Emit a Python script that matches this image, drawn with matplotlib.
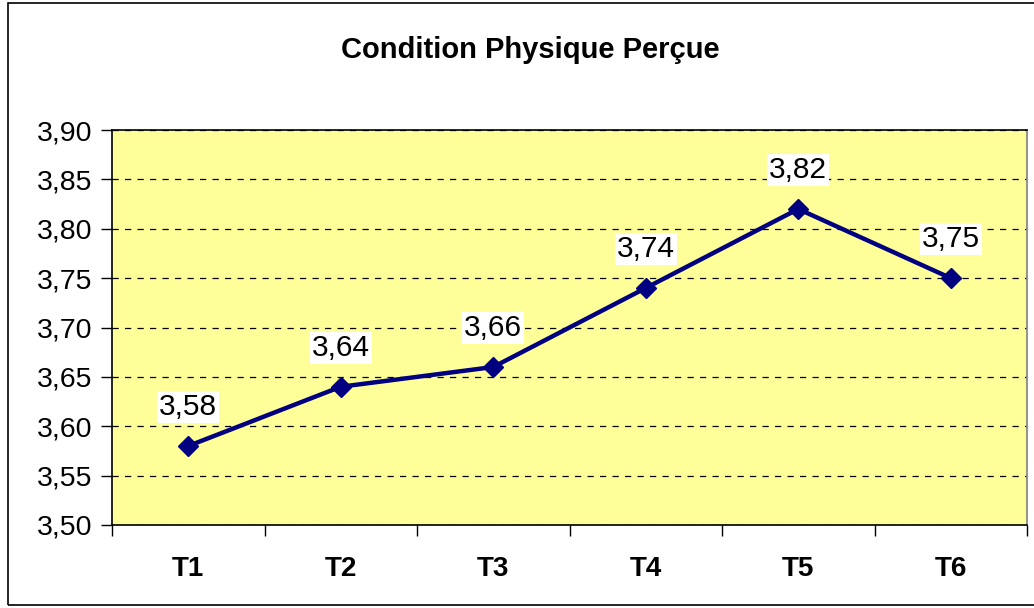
import matplotlib
matplotlib.use("Agg")
import matplotlib.pyplot as plt
from matplotlib.patches import Rectangle
from matplotlib.ticker import FixedLocator

categories = ["T1", "T2", "T3", "T4", "T5", "T6"]
values = [3.58, 3.64, 3.66, 3.74, 3.82, 3.75]
yticks = [3.50, 3.55, 3.60, 3.65, 3.70, 3.75, 3.80, 3.85, 3.90]
title = "Condition Physique Perçue"

plt.rcParams['font.family'] = ['Liberation Sans', 'DejaVu Sans']

W, H = 1034, 608
fig = plt.figure(figsize=(W / 100, H / 100), dpi=100)
fig.patch.set_facecolor("white")
fig.add_artist(Rectangle((8 / W, 1 - 605 / H), (1040 - 8) / W, (605 - 3) / H,
                         transform=fig.transFigure, fill=False, edgecolor="black", lw=1.2))

L, R, T, B = 112, 1027, 130, 525
ax = fig.add_axes([L / W, 1 - B / H, (R - L) / W, (B - T) / H])
ax.set_facecolor("#FFFF99")

x = list(range(len(categories)))
ax.plot(x, values, color="#000080", lw=3.2, marker="D", markersize=10, zorder=3)
for xi, v in zip(x, values):
    ax.annotate(f"{v:.2f}".replace(".", ","), (xi, v), xytext=(0, 39), textcoords="offset pixels",
                ha="center", va="center", fontsize=21.5,
                bbox=dict(boxstyle="square,pad=0.06", fc="white", ec="none"), zorder=4)

ax.set_xlim(-0.5, len(categories) - 0.5)
ax.set_ylim(yticks[0], yticks[-1])
ax.set_yticks(yticks)
ax.set_yticklabels([f"{t:.2f}".replace(".", ",") for t in yticks], fontsize=20.5)
ax.yaxis.grid(True, color="black", linestyle=(0, (5, 5)), lw=0.9)
ax.set_axisbelow(True)

ax.xaxis.set_major_locator(FixedLocator([i - 0.5 for i in range(len(categories) + 1)]))
ax.set_xticklabels([])
ax.xaxis.set_minor_locator(FixedLocator(x))
ax.set_xticklabels(categories, minor=True, fontsize=20, fontweight="bold")
ax.tick_params(axis="x", which="major", length=8, width=1, direction="out")
ax.tick_params(axis="x", which="minor", length=0, pad=22)
ax.tick_params(axis="y", length=8, width=1, direction="out", pad=6)

ax.spines["left"].set_color("black")
ax.spines["bottom"].set_color("black")
ax.spines["top"].set_color("black")
ax.spines["right"].set_color("#808080")
for s in ax.spines.values():
    s.set_linewidth(1.2)

fig.text(530 / W, 1 - 50 / H, title, ha="center", va="center", fontsize=21, fontweight="bold")

fig.savefig("out.png", dpi=100)
